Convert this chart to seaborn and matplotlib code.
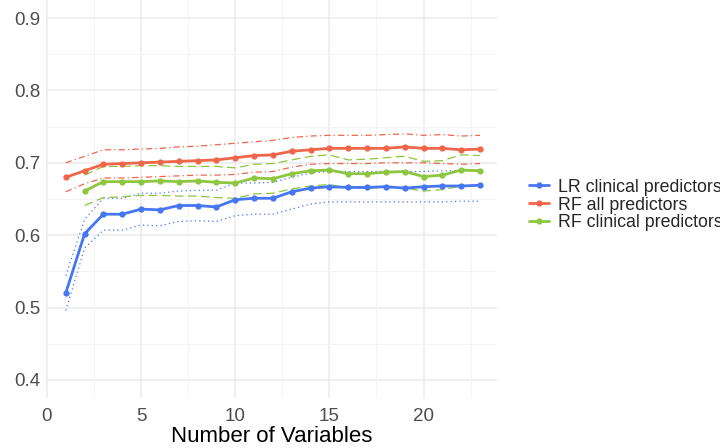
import matplotlib
matplotlib.use("Agg")
import matplotlib.pyplot as plt
import numpy as np
import pandas as pd
import seaborn as sns

# number of variables in the model
nVars = list(range(1, 24))
nVarsClin = list(range(2, 24))

# LR clinical predictors
lrAuc = [0.520, 0.602, 0.629, 0.629, 0.636, 0.635, 0.641, 0.641, 0.639, 0.649, 0.651, 0.651,
         0.660, 0.665, 0.667, 0.666, 0.666, 0.667, 0.665, 0.667, 0.668, 0.668, 0.669]
lrLow = [0.496, 0.582, 0.607, 0.607, 0.614, 0.613, 0.619, 0.620, 0.619, 0.627, 0.629, 0.629,
         0.636, 0.643, 0.646, 0.646, 0.646, 0.646, 0.646, 0.646, 0.646, 0.647, 0.647]
lrHigh = [0.544, 0.622, 0.651, 0.651, 0.658, 0.658, 0.661, 0.662, 0.662, 0.672, 0.672, 0.673,
          0.680, 0.686, 0.688, 0.688, 0.688, 0.688, 0.688, 0.688, 0.689, 0.689, 0.690]

# RF all predictors
rfAllAuc = [0.680, 0.689, 0.698, 0.699, 0.700, 0.701, 0.702, 0.703, 0.704, 0.707, 0.710, 0.711,
            0.716, 0.718, 0.720, 0.720, 0.720, 0.720, 0.722, 0.720, 0.720, 0.718, 0.719]
rfAllLow = [0.660, 0.671, 0.679, 0.679, 0.680, 0.681, 0.682, 0.683, 0.683, 0.684, 0.687, 0.688,
            0.694, 0.698, 0.699, 0.699, 0.699, 0.700, 0.700, 0.700, 0.699, 0.698, 0.699]
rfAllHigh = [0.700, 0.709, 0.718, 0.718, 0.719, 0.720, 0.722, 0.723, 0.725, 0.727, 0.729, 0.731,
             0.735, 0.737, 0.738, 0.738, 0.738, 0.739, 0.740, 0.738, 0.739, 0.737, 0.738]

# RF clinical predictors (starts at 2 variables)
rfClinAuc = [0.661, 0.674, 0.674, 0.674, 0.675, 0.674, 0.675, 0.673, 0.672, 0.679, 0.678,
             0.685, 0.689, 0.690, 0.685, 0.685, 0.687, 0.688, 0.681, 0.683, 0.690, 0.689]
rfClinLow = [0.641, 0.652, 0.653, 0.655, 0.655, 0.654, 0.654, 0.652, 0.651, 0.657, 0.658,
             0.664, 0.668, 0.670, 0.665, 0.665, 0.666, 0.665, 0.661, 0.663, 0.668, 0.669]
rfClinHigh = [0.683, 0.695, 0.695, 0.696, 0.696, 0.695, 0.695, 0.695, 0.693, 0.698, 0.699,
              0.704, 0.709, 0.711, 0.704, 0.705, 0.707, 0.709, 0.702, 0.703, 0.711, 0.710]

models = ["LR clinical predictors", "RF all predictors", "RF clinical predictors"]
colours = {"LR clinical predictors": "#4676F3", "RF all predictors": "#F0664A",
           "RF clinical predictors": "#8DC63F"}
bandStyle = {"LR clinical predictors": (0, (1, 2.5)),
             "RF all predictors": (0, (5, 2.5, 1, 2.5)),
             "RF clinical predictors": (0, (7, 3.5))}


def buildFrame():
    parts = [
        pd.DataFrame({"vars": nVars, "auc": lrAuc, "low": lrLow, "high": lrHigh, "model": models[0]}),
        pd.DataFrame({"vars": nVars, "auc": rfAllAuc, "low": rfAllLow, "high": rfAllHigh, "model": models[1]}),
        pd.DataFrame({"vars": nVarsClin, "auc": rfClinAuc, "low": rfClinLow, "high": rfClinHigh, "model": models[2]}),
    ]
    return pd.concat(parts, ignore_index=True)


def main():
    df = buildFrame()

    sns.set_theme(style="whitegrid")
    plt.rcParams["font.family"] = ["Liberation Sans", "DejaVu Sans"]

    fig = plt.figure(figsize=(7.2, 4.48), dpi=100)
    ax = fig.add_axes([46 / 720, 1 - 398 / 448, 451 / 720, 398 / 448])

    # confidence bounds first, thin and dashed
    for m in models:
        sub = df[df["model"] == m]
        for col in ["low", "high"]:
            sns.lineplot(data=sub, x="vars", y=col, ax=ax, color=colours[m], linewidth=0.9,
                         linestyle=bandStyle[m], legend=False, errorbar=None)

    sns.lineplot(data=df, x="vars", y="auc", hue="model", hue_order=models, palette=colours,
                 ax=ax, linewidth=2.0, marker="o", markersize=4.5, markeredgewidth=0,
                 errorbar=None)

    ax.set_xlim(-0.05, 23.9)
    ax.set_ylim(0.375, 0.925)
    ax.set_xticks([0, 5, 10, 15, 20])
    ax.set_xticks([2.5, 7.5, 12.5, 17.5, 22.5], minor=True)
    ax.set_yticks([0.4, 0.5, 0.6, 0.7, 0.8, 0.9])
    ax.set_yticks([0.45, 0.55, 0.65, 0.75, 0.85], minor=True)
    ax.set_yticklabels(["0.4", "0.5", "0.6", "0.7", "0.8", "0.9"])
    ax.grid(which="major", color="#EBEBEB", linewidth=1.1)
    ax.grid(which="minor", color="#F3F3F3", linewidth=0.6)
    for s in ax.spines.values():
        s.set_visible(False)
    ax.tick_params(axis="both", which="both", length=0, labelsize=13.5, labelcolor="#4D4D4D")
    ax.tick_params(axis="x", pad=7)
    ax.tick_params(axis="y", pad=4)

    ax.set_xlabel("Number of Variables", fontsize=16, color="black", labelpad=1)
    ax.set_ylabel("AUC", fontsize=16, color="black")
    ax.yaxis.set_label_coords(-0.105, 0.5)

    handles, labels = ax.get_legend_handles_labels()
    ax.legend_.remove()
    fig.legend(handles, labels, loc="center left", bbox_to_anchor=(522 / 720, 1 - 205 / 448),
               frameon=False, fontsize=12.8, handlelength=1.1, handletextpad=0.55,
               labelspacing=0.05, borderaxespad=0)

    fig.savefig("out.png", dpi=100)
    plt.close(fig)


if __name__ == "__main__":
    main()
